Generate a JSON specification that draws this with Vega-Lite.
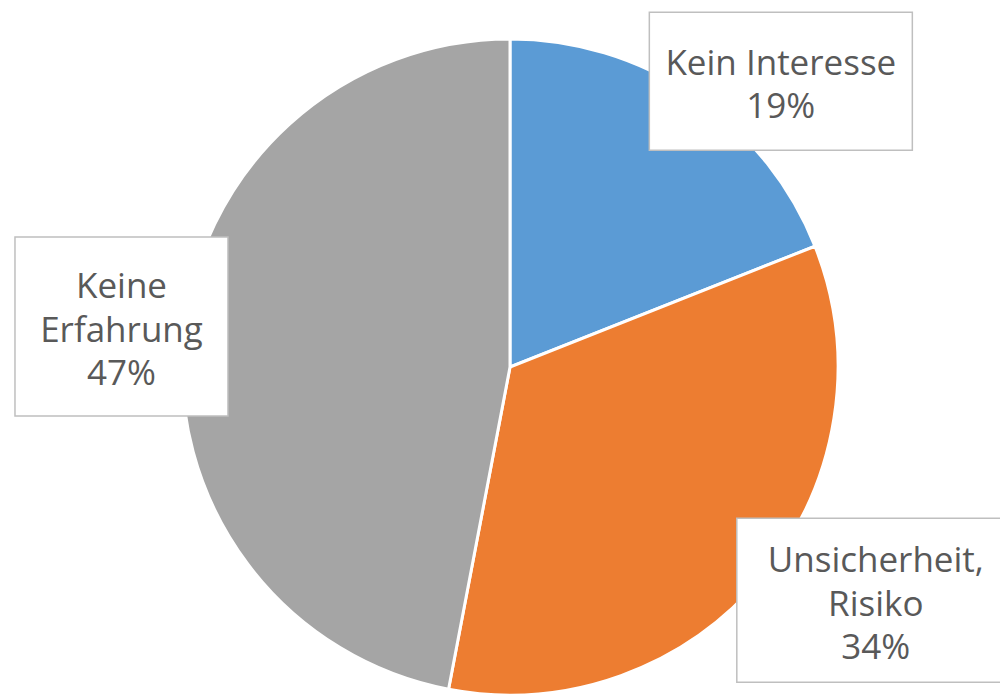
{
  "$schema": "https://vega.github.io/schema/vega-lite/v6.json",
  "width": 980,
  "height": 656,
  "padding": {"left": 20, "top": 39, "right": 0, "bottom": 0},
  "autosize": {"type": "none"},
  "background": "white",
  "config": {"view": {"stroke": null}},
  "data": {
    "values": [
      {"idx": 1, "cat": "Kein Interesse", "label": "Kein Interesse", "pct": 19},
      {"idx": 2, "cat": "Unsicherheit, Risiko", "label": "Unsicherheit,|Risiko", "pct": 34},
      {"idx": 3, "cat": "Keine Erfahrung", "label": "Keine|Erfahrung", "pct": 47}
    ]
  },
  "transform": [
    {"stack": "pct", "groupby": [], "sort": [{"field": "idx"}], "as": ["s0", "s1"]},
    {"calculate": "PI * (datum.s0 + datum.s1) / 100", "as": "mid"},
    {"calculate": "400 * sin(datum.mid)", "as": "lx"},
    {"calculate": "400 * cos(datum.mid)", "as": "ly"},
    {"calculate": "datum.label + '|' + datum.pct + '%'", "as": "txt"}
  ],
  "layer": [
    {
      "mark": {"type": "arc", "outerRadius": 328, "stroke": "white", "strokeWidth": 3},
      "encoding": {
        "theta": {"field": "s0", "type": "quantitative", "scale": {"domain": [0, 100]}},
        "theta2": {"field": "s1"},
        "color": {
          "field": "cat",
          "type": "nominal",
          "scale": {"domain": ["Kein Interesse", "Unsicherheit, Risiko", "Keine Erfahrung"], "range": ["#5B9BD5", "#ED7D31", "#A5A5A5"]},
          "legend": null
        }
      }
    },
    {
      "transform": [{"filter": "datum.idx == 1"}],
      "encoding": {
        "x": {"field": "lx", "type": "quantitative", "scale": {"domain": [-490, 490], "nice": false, "zero": false}, "axis": null},
        "y": {"field": "ly", "type": "quantitative", "scale": {"domain": [-328, 328], "nice": false, "zero": false}, "axis": null}
      },
      "layer": [
        {"mark": {"type": "rect", "width": 263, "height": 138, "fill": "white", "stroke": "#BFBFBF", "strokeWidth": 1.5, "xOffset": 46, "yOffset": 45}},
        {"mark": {"type": "text", "font": "Open Sans", "fontSize": 35, "lineHeight": 43, "lineBreak": "|", "color": "#595959", "align": "center", "baseline": "middle", "xOffset": 46, "yOffset": 27.5}, "encoding": {"text": {"field": "txt"}}}
      ]
    },
    {
      "transform": [{"filter": "datum.idx == 2"}],
      "encoding": {
        "x": {"field": "lx", "type": "quantitative", "axis": null},
        "y": {"field": "ly", "type": "quantitative", "axis": null}
      },
      "layer": [
        {"mark": {"type": "rect", "width": 278, "height": 164, "fill": "white", "stroke": "#BFBFBF", "strokeWidth": 1.5, "xOffset": 57.6, "yOffset": -21.8}},
        {"mark": {"type": "text", "font": "Open Sans", "fontSize": 35, "lineHeight": 43.5, "lineBreak": "|", "color": "#595959", "align": "center", "baseline": "middle", "xOffset": 57.6, "yOffset": -60.8}, "encoding": {"text": {"field": "txt"}}}
      ]
    },
    {
      "transform": [{"filter": "datum.idx == 3"}],
      "encoding": {
        "x": {"field": "lx", "type": "quantitative", "axis": null},
        "y": {"field": "ly", "type": "quantitative", "axis": null}
      },
      "layer": [
        {"mark": {"type": "rect", "width": 213, "height": 179, "fill": "white", "stroke": "#BFBFBF", "strokeWidth": 1.5, "xOffset": 9.7, "yOffset": -2.9}},
        {"mark": {"type": "text", "font": "Open Sans", "fontSize": 35, "lineHeight": 43.5, "lineBreak": "|", "color": "#595959", "align": "center", "baseline": "middle", "xOffset": 9.7, "yOffset": -41.9}, "encoding": {"text": {"field": "txt"}}}
      ]
    }
  ]
}
